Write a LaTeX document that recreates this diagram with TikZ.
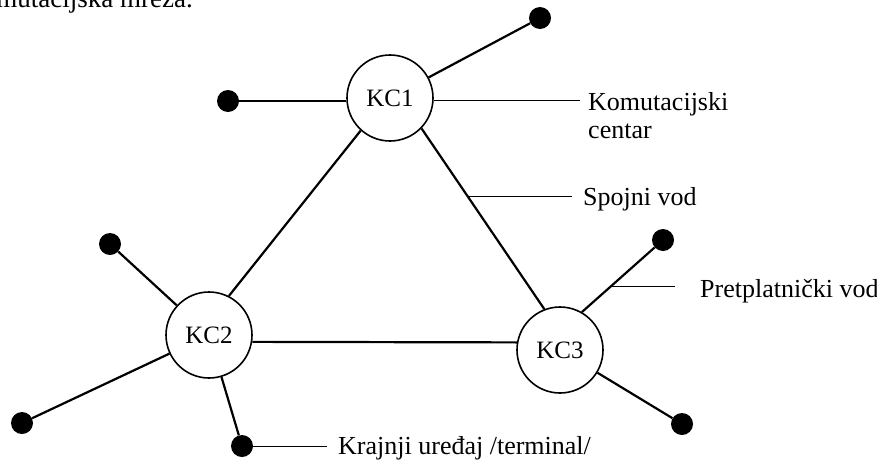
\documentclass[tikz,border=0pt]{standalone}
\usepackage{fontspec}
\setmainfont{Liberation Serif}
\usetikzlibrary{calc}
\begin{document}
\begin{tikzpicture}[x=1pt,y=-1pt,
  kc/.style={circle,draw,line width=1.6pt,minimum size=86pt,inner sep=0pt,font=\fontsize{25}{25}\selectfont},
  term/.style={circle,fill=black,minimum size=22pt,inner sep=0pt},
  link/.style={line width=2.2pt},
  lbl/.style={line width=0.8pt},
  txt/.style={anchor=base west,inner sep=0pt,font=\fontsize{26}{28}\selectfont,align=left}]
\useasboundingbox (0,0) rectangle (877,461);
\clip (0,0) rectangle (877,461);
\node[txt,anchor=base east,font=\fontsize{27}{28}\selectfont] (cap) at (193,7) {Komutacijska mreža.};
\node[kc] (KC1) at (390,98) {KC1};
\node[kc] (KC2) at (209,335) {KC2};
\node[kc] (KC3) at (560,350) {KC3};
\node[term] (t1a) at (228,101) {};
\node[term] (t1b) at (540,18) {};
\node[term] (t2a) at (110,244) {};
\node[term] (t2b) at (22,423) {};
\node[term] (t2c) at (242,446) {};
\node[term] (t3a) at (663,240) {};
\node[term] (t3b) at (682,424) {};
\coordinate (kce) at ($(KC1.center)+(0,2)$);
\coordinate (kcend) at (580,100);
\draw[link] (KC1.west |- t1a) -- (t1a);
\draw[link] (KC1) -- (t1b);
\draw[link] (KC2) -- (t2a);
\draw[link] (KC2) -- (t2b);
\draw[link] (KC2) -- (t2c);
\draw[link] (KC3.60) -- (t3a);
\draw[link] (KC3) -- (t3b);
\draw[link] (KC1.-132) -- (KC2.63);
\draw[link] (KC1.-44) -- (KC3.111);
\draw[link] (KC2.-9.5) -- (KC3.170.6);
\coordinate (sp) at ($(KC1.-44)!0.377!(KC3.111)$);
\coordinate (pp) at ($(KC3.60)!0.36!(t3a)$);
\node[txt] (lk) at (588,110) {Komutacijski};
\node[txt] (lc) at (588,138) {centar};
\node[txt] (ls) at (583,205) {Spojni vod};
\node[txt] (lp) at (700,297) {Pretplatnički vod};
\node[txt] (lt) at (338,454) {Krajnji uređaj /terminal/};
\draw[lbl] (KC1.east |- kcend) -- (kcend);
\draw[lbl] (sp) -- (sp -| 572,0);
\draw[lbl] (pp) -- (pp -| 675,0);
\draw[lbl] (t2c) -- (t2c -| 327,0);
\end{tikzpicture}
\end{document}
